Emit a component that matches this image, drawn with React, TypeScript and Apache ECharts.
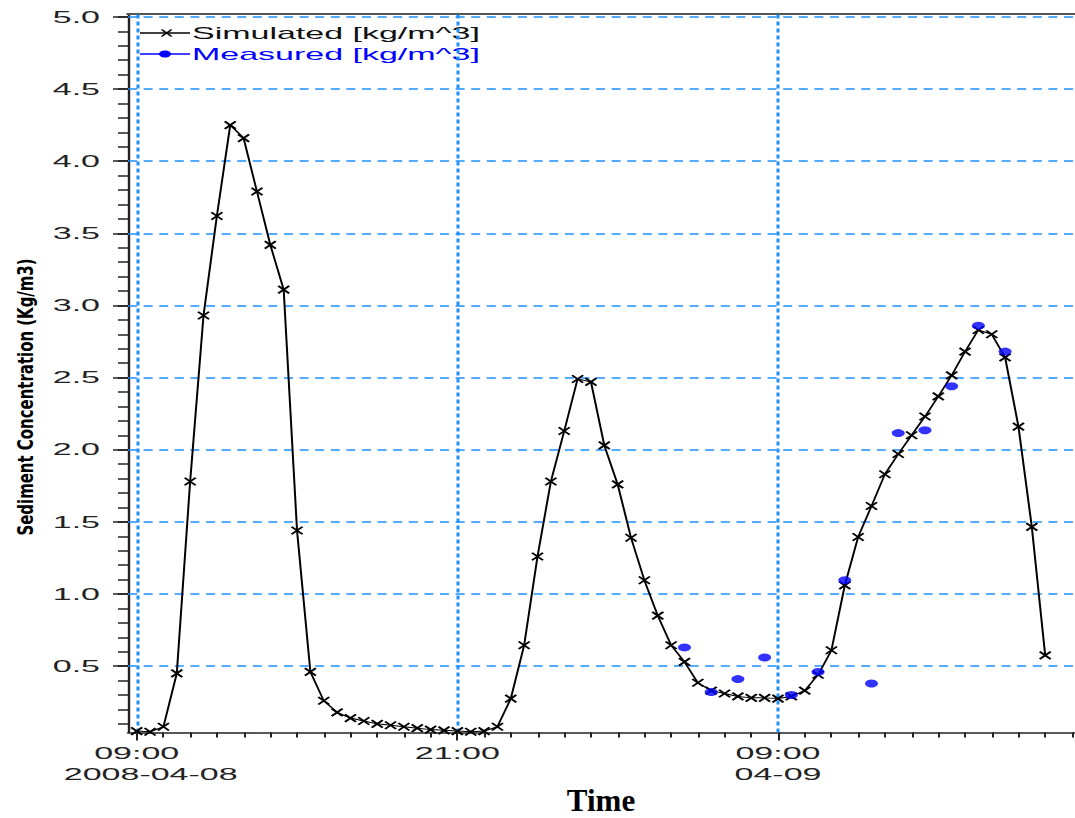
import React, { useEffect, useRef } from "react";
import * as echarts from "echarts";

// Time axis in hours since 2008-04-08 00:00
const SIM_START_HOUR = 9; // 2008-04-08 09:00
const SIM_STEP_HOURS = 0.5;
const simulated = [
  0.05, 0.045, 0.08, 0.45, 1.78, 2.93, 3.62, 4.25, 4.16, 3.79,
  3.42, 3.11, 1.44, 0.46, 0.26, 0.18, 0.14, 0.12, 0.1, 0.09,
  0.08, 0.07, 0.06, 0.055, 0.05, 0.045, 0.05, 0.08, 0.275, 0.645,
  1.26, 1.78, 2.13, 2.49, 2.47, 2.03, 1.76, 1.39, 1.095, 0.85,
  0.645, 0.53, 0.385, 0.33, 0.31, 0.29, 0.28, 0.28, 0.275, 0.29,
  0.33, 0.44, 0.61, 1.06, 1.395, 1.61, 1.83, 1.97, 2.1, 2.23,
  2.37, 2.515, 2.68, 2.83, 2.8, 2.64, 2.16, 1.465, 0.575,
];
const measuredHours = [29.5, 30.5, 31.5, 32.5, 33.5, 34.5, 35.5, 36.5, 37.5, 38.5, 39.5, 40.5, 41.5];
const measured = [0.63, 0.32, 0.41, 0.56, 0.3, 0.46, 1.095, 0.38, 2.115, 2.135, 2.44, 2.86, 2.68];

const xLabelHours = [9, 21, 33];
const xLabelTimes = ["09:00", "21:00", "09:00"];
const xLabelDates = ["2008-04-08", "", "04-09"];
const yLabelValues = [0.5, 1.0, 1.5, 2.0, 2.5, 3.0, 3.5, 4.0, 4.5, 5.0];

const X_MIN = 8.674;
const X_MAX = 44.116;
const Y_MIN = 0.04;
const Y_MAX = 5.02;

const hourTicks: number[] = [];
for (let h = 9; h <= 44; h++) hourTicks.push(h);
const yMinorTicks: number[] = [];
for (let k = 1; k <= 50; k++) yMinorTicks.push(k / 10);

const STRETCH = 2;
const W = 1075 / STRETCH;
const H = 818;
const SANS = '"Liberation Sans", Arial, sans-serif';
const BLUE_GRID = "#1e90ff";

export default function App() {
  const ref = useRef<HTMLDivElement>(null);
  useEffect(() => {
    const el = ref.current!;
    const chart = echarts.init(el, null, { renderer: "svg", width: W, height: H });
    const axisColor = "#222";
    const labelStyle = { fontFamily: SANS, fontSize: 17, lineHeight: 21, color: axisColor };
    const option: any = {
      animation: false,
      grid: { left: 64, right: 0, top: 14, bottom: 85.5, containLabel: false, outerBoundsMode: "none" },
      xAxis: [
        {
          type: "value",
          position: "bottom",
          min: X_MIN,
          max: X_MAX,
          axisLine: { show: true, onZero: false, lineStyle: { color: axisColor, width: 1.5 } },
          axisTick: { show: true, customValues: xLabelHours, length: 8, lineStyle: { color: axisColor, width: 1 } },
          axisLabel: {
            show: true,
            customValues: xLabelHours,
            formatter: (v: number) => {
              const i = xLabelHours.indexOf(Math.round(v));
              if (i < 0) return "";
              const t = `{t|${xLabelTimes[i]}}`;
              if (!xLabelDates[i]) return t;
              return `${t}\n{${i === 0 ? "d0" : "d"}|${xLabelDates[i]}}`;
            },
            ...labelStyle,
            margin: 10,
            rich: {
              t: { ...labelStyle },
              d: { ...labelStyle },
              d0: { ...labelStyle, padding: [0, 0, 0, 14] },
            },
          },
          splitLine: { show: false },
        },
        {
          type: "value",
          position: "bottom",
          min: X_MIN,
          max: X_MAX,
          axisLine: { show: false, onZero: false },
          axisTick: { show: true, customValues: hourTicks, length: 5, lineStyle: { color: axisColor, width: 1 } },
          axisLabel: { show: false },
          splitLine: { show: false },
        },
        {
          type: "value",
          position: "top",
          min: X_MIN,
          max: X_MAX,
          axisLine: { show: true, onZero: false, lineStyle: { color: "#555", width: 2 } },
          axisTick: { show: false },
          axisLabel: { show: false },
          splitLine: { show: false },
        },
      ],
      yAxis: [
        {
          type: "value",
          position: "left",
          min: Y_MIN,
          max: Y_MAX,
          splitNumber: 10,
          axisLine: { show: true, onZero: false, lineStyle: { color: axisColor, width: 1.2 } },
          axisTick: { show: true, customValues: yLabelValues, length: 7.5, lineStyle: { color: axisColor, width: 1.5 } },
          axisLabel: {
            show: true,
            customValues: yLabelValues,
            formatter: (v: number) => v.toFixed(1),
            fontFamily: SANS,
            fontSize: 17,
            color: axisColor,
            margin: 14,
          },
          splitLine: { show: false },
        },
        {
          type: "value",
          position: "left",
          min: Y_MIN,
          max: Y_MAX,
          axisLine: { show: false, onZero: false },
          axisTick: { show: true, customValues: yMinorTicks, length: 5, lineStyle: { color: axisColor, width: 1.5 } },
          axisLabel: { show: false },
          splitLine: { show: false },
        },
      ],
      series: [
        {
          type: "line",
          name: "Simulated [kg/m^3]",
          xAxisIndex: 0,
          yAxisIndex: 0,
          data: simulated.map((v, i) => [SIM_START_HOUR + i * SIM_STEP_HOURS, v]),
          symbol: "path://M0,0L5,7M5,0L0,7",
          symbolSize: [5.5, 7.5],
          showAllSymbol: true,
          lineStyle: { color: "#000", width: 1 },
          itemStyle: { color: "#000", borderColor: "#000", borderWidth: 1.4 },
          z: 3,
          markLine: {
            silent: true,
            symbol: ["none", "none"],
            label: { show: false },
            z: 1,
            data: [
              ...xLabelHours.map((h) => ({
                xAxis: h,
                lineStyle: { color: BLUE_GRID, type: [4, 3], width: 1.5, opacity: 1 },
              })),
              ...yLabelValues.map((v) => ({
                yAxis: v,
                lineStyle: { color: BLUE_GRID, type: [4.5, 3.3], width: 1.6, opacity: 1 },
              })),
            ],
          },
        },
        {
          type: "scatter",
          name: "Measured [kg/m^3]",
          xAxisIndex: 0,
          yAxisIndex: 0,
          data: measured.map((v, i) => [measuredHours[i], v]),
          symbol: "circle",
          symbolSize: [6.5, 8],
          itemStyle: { color: "#0000ff" },
          z: 4,
        },
      ],
      graphic: [
        { type: "line", shape: { x1: 70, y1: 33, x2: 95, y2: 33 }, style: { stroke: "#000", lineWidth: 1.3 } },
        { type: "line", shape: { x1: 80.8, y1: 29.5, x2: 85.8, y2: 36.5 }, style: { stroke: "#000", lineWidth: 1.2 } },
        { type: "line", shape: { x1: 85.8, y1: 29.5, x2: 80.8, y2: 36.5 }, style: { stroke: "#000", lineWidth: 1.2 } },
        {
          type: "text",
          x: 96,
          y: 33,
          style: { text: "Simulated [kg/m^3]", fill: "#111", font: `17px ${SANS}`, textVerticalAlign: "middle", verticalAlign: "middle" },
        },
        { type: "line", shape: { x1: 70, y1: 54, x2: 95, y2: 54 }, style: { stroke: "#0000ff", lineWidth: 1.3 } },
        { type: "ellipse", shape: { cx: 82.5, cy: 54, rx: 3, ry: 3.5 }, style: { fill: "#0000ff" } },
        {
          type: "text",
          x: 96,
          y: 54,
          style: { text: "Measured [kg/m^3]", fill: "#0000ff", font: `17px ${SANS}`, textVerticalAlign: "middle", verticalAlign: "middle" },
        },
        {
          type: "text",
          x: 13,
          y: 397,
          rotation: Math.PI / 2,
          scaleX: 0.755,
          scaleY: 1 / STRETCH,
          style: {
            text: "Sediment Concentration (Kg/m3)",
            fill: "#000",
            font: 'bold 22px "DejaVu Sans Condensed", sans-serif',
            textAlign: "center",
            align: "center",
            textVerticalAlign: "middle",
            verticalAlign: "middle",
          },
        },
        {
          type: "text",
          x: 300.5,
          y: 800,
          scaleX: 1 / STRETCH,
          style: {
            text: "Time",
            fill: "#000",
            font: 'bold 31px "Liberation Serif", "Times New Roman", serif',
            textAlign: "center",
            align: "center",
            textVerticalAlign: "middle",
            verticalAlign: "middle",
          },
        },
      ],
    };
    chart.setOption(option);

    // Stretch the rendered SVG horizontally (the reference is a 2x horizontally stretched picture)
    const stretch = () => {
      const svg = el.querySelector("svg");
      if (!svg) return;
      svg.setAttribute("viewBox", `0 0 ${W} ${H}`);
      svg.setAttribute("preserveAspectRatio", "none");
      svg.setAttribute("width", String(W * STRETCH));
      svg.style.width = `${W * STRETCH}px`;
      let p = svg.parentElement as HTMLElement | null;
      while (p && p !== el) {
        p.style.width = `${W * STRETCH}px`;
        p.style.overflow = "visible";
        p = p.parentElement;
      }
    };
    stretch();
    chart.on("finished", stretch);
    return () => chart.dispose();
  }, []);
  return (
    <div
      ref={ref}
      style={{
        position: "absolute",
        left: 0,
        top: 0,
        width: W * STRETCH,
        height: H,
        overflow: "hidden",
      }}
    />
  );
}
